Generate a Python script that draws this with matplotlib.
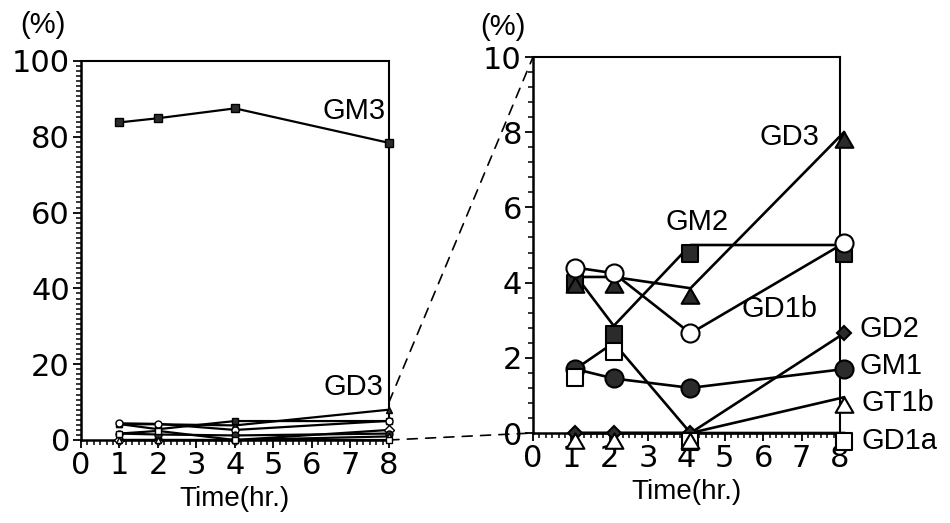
import matplotlib
matplotlib.use("Agg")
import matplotlib.pyplot as plt
import matplotlib.transforms as mtransforms
from matplotlib.path import Path
from matplotlib.patches import ConnectionPatch
from matplotlib.ticker import MultipleLocator

# ---------------- data ----------------
time_hr = [1, 2, 4, 8]
gm3 = [83.8, 84.9, 87.5, 78.4]
gd3 = [4.15, 4.15, 3.85, 8.0]
gm2 = [4.2, 2.85, 5.0, 5.0]
gd1b = [4.4, 4.25, 2.65, 5.05]
gd2 = [0.0, 0.0, 0.0, 2.65]
gm1 = [1.7, 1.45, 1.2, 1.7]
gt1b = [0.0, 0.0, 0.0, 0.95]
gd1a = [1.7, 2.4, 0.0, 0.0]

x_ticks = [0, 1, 2, 3, 4, 5, 6, 7, 8]
left_yticks = [0, 20, 40, 60, 80, 100]
right_yticks = [0, 2, 4, 6, 8, 10]

LBL_FONT = "Liberation Sans"
TICK_FONT = "DejaVu Sans"
DARK = "#2b2b2b"

fig = plt.figure(figsize=(9.5, 5.23), dpi=100)
axL = fig.add_axes([0.08526, 0.1587, 0.32421, 0.72467])
axR = fig.add_axes([0.56105, 0.17208, 0.32316, 0.71893])

# anchored marker shapes (apex / top edge at the data point)
tri_path = Path([(0, 0), (0.58, -1), (-0.58, -1), (0, 0)],
                [Path.MOVETO, Path.LINETO, Path.LINETO, Path.CLOSEPOLY])
sq_path = Path([(-0.5, 0), (0.5, 0), (0.5, -1), (-0.5, -1), (-0.5, 0)],
               [Path.MOVETO, Path.LINETO, Path.LINETO, Path.LINETO, Path.CLOSEPOLY])


def style_axes(ax, ymax, yticks, yminor):
    ax.set_xlim(0, 8)
    ax.set_ylim(0, ymax)
    ax.set_xticks(x_ticks)
    ax.set_yticks(yticks)
    ax.xaxis.set_minor_locator(MultipleLocator(1 / 6))
    ax.yaxis.set_minor_locator(MultipleLocator(yminor))
    ax.tick_params(which="major", direction="out", length=6, width=1.3,
                   labelsize=22, pad=2, top=False, right=False)
    ax.tick_params(which="minor", direction="out", length=3.5, width=1.1,
                   top=False, right=False)
    for lab in ax.get_xticklabels() + ax.get_yticklabels():
        lab.set_fontfamily(TICK_FONT)
    for s in ["left", "bottom"]:
        ax.spines[s].set_linewidth(1.8)
    for s in ["top", "right"]:
        ax.spines[s].set_linewidth(1.5)
    ax.set_xlabel("Time(hr.)", fontsize=20, family=LBL_FONT, labelpad=4)


# ---------------- left panel ----------------
style_axes(axL, 100, left_yticks, 4 / 3)
lw_s = 1.6
axL.plot(time_hr, gm3, color="black", lw=1.6, marker="s", ms=6,
         mfc=DARK, mec="black", clip_on=False, zorder=4)
small = [
    (gd3, "^", DARK), (gm2, "s", DARK), (gd1b, "o", "white"), (gd2, "D", "white"),
    (gm1, "o", DARK), (gt1b, "^", "white"), (gd1a, "s", "white"),
]
for ys, m, fc in small:
    axL.plot(time_hr, ys, color="black", lw=lw_s, marker=m, ms=5,
             mfc=fc, mec="black", mew=1.0, clip_on=False, zorder=3)

axL.text(7.9, 86.8, "GM3", fontsize=21, family=LBL_FONT, ha="right", va="center")
axL.text(7.85, 14.0, "GD3", fontsize=21, family=LBL_FONT, ha="right", va="center")
axL.text(-0.198, 1.095, "(%)", transform=axL.transAxes, fontsize=21,
         family=LBL_FONT, ha="left", va="center")

# ---------------- right panel ----------------
style_axes(axR, 10, right_yticks, 0.4)
off = mtransforms.ScaledTranslation(4 / 100, 0, fig.dpi_scale_trans)
trR = axR.transData + off
lw = 1.9

series_r = [
    (gm2, sq_path, 24, DARK),
    (gd3, tri_path, 22, DARK),
    (gm1, "o", 13, DARK),
    (gd2, "D", 7.5, DARK),
    (gd1a, sq_path, 24, "white"),
    (gt1b, tri_path, 22, "white"),
    (gd1b, "o", 13, "white"),
]
for ys, m, ms, fc in series_r:
    axR.plot(time_hr, ys, color="black", lw=lw, transform=trR,
             clip_on=False, zorder=3)
for z, (ys, m, ms, fc) in enumerate(series_r):
    axR.plot(time_hr, ys, linestyle="none", marker=m, ms=ms, mfc=fc,
             mec="black", mew=1.5, transform=trR, clip_on=False, zorder=5 + z)

axR.text(7.47, 7.86, "GD3", fontsize=21, family=LBL_FONT, ha="right", va="center")
axR.text(3.44, 5.6, "GM2", fontsize=21, family=LBL_FONT, ha="left", va="center")
axR.text(5.44, 3.3, "GD1b", fontsize=21, family=LBL_FONT, ha="left", va="center")
axR.text(8.52, 2.77, "GD2", fontsize=21, family=LBL_FONT, ha="left", va="center")
axR.text(8.52, 1.78, "GM1", fontsize=21, family=LBL_FONT, ha="left", va="center")
axR.text(8.57, 0.8, "GT1b", fontsize=21, family=LBL_FONT, ha="left", va="center")
axR.text(8.57, -0.2, "GD1a", fontsize=21, family=LBL_FONT, ha="left", va="center")
axR.text(-0.173, 1.08, "(%)", transform=axR.transAxes, fontsize=21,
         family=LBL_FONT, ha="left", va="center")

# ---------------- zoom connectors ----------------
for yl, yr in [(10, 10), (0, 0)]:
    con = ConnectionPatch(xyA=(8, yl), coordsA=axL.transData,
                          xyB=(0, yr), coordsB=axR.transData,
                          linestyle=(0, (6, 5)), lw=1.2, color="black")
    con.set_zorder(0)
    fig.add_artist(con)

fig.savefig("out.png", dpi=100)
